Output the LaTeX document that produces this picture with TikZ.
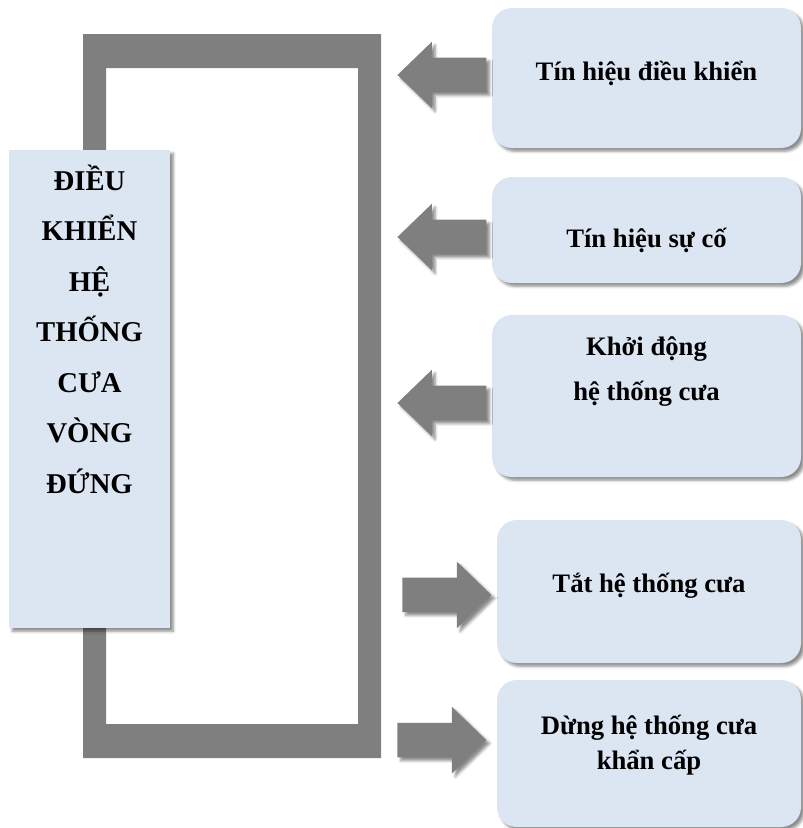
\documentclass[tikz,border=0pt]{standalone}
\usepackage{fontspec}
\setmainfont{Liberation Serif}
\usepackage{tikz}
\usetikzlibrary{positioning, shapes.arrows, shadows.blur}

\definecolor{boxblue}{HTML}{DCE6F2}
\definecolor{framegray}{HTML}{7F7F7F}

\tikzset{
  softshadow/.style = {blur shadow={shadow xshift=2.5pt, shadow yshift=-2.5pt, shadow blur radius=2pt, shadow opacity=45}},
  ctrlbox/.style    = {fill=boxblue, minimum width=120.75pt, minimum height=358.5pt, inner sep=0pt, softshadow},
  sigbox/.style     = {fill=boxblue, rounded corners=15pt, minimum width=231.75pt, inner sep=0pt, softshadow},
  txt/.style        = {font=\bfseries\fontsize{20pt}{24pt}\selectfont, align=center, inner sep=0pt},
  blockarrow/.style = {single arrow, fill=framegray, minimum height=66.75pt, text height=12.75pt, text depth=12.75pt,
                       single arrow head extend=12pt, single arrow tip angle=88, inner sep=0pt, softshadow},
}

\begin{document}
\begin{tikzpicture}[x=0.75pt, y=-0.75pt]

\useasboundingbox (0,0) rectangle (803,828);

% thick frame behind the control block
\fill [framegray, even odd rule] (83,34) rectangle (381,758) (106,68) rectangle (358,724);

\node [ctrlbox                                   ] (ctrl)  at (89.5,389)  {};
\node [txt, font=\bfseries\fontsize{21.5pt}{37.9pt}\selectfont] (ctrlt) at (89.5,329)
      {ĐIỀU\\KHIỂN\\HỆ\\THỐNG\\CƯA\\VÒNG\\ĐỨNG};

% signal boxes on the right
\node [sigbox, minimum height=105pt                      ] (sig1) at (646.5,78)    {};
\node [sigbox, minimum height=79.5pt                     ] (sig2) at (646.5,230)   {};
\node [sigbox, minimum height=121.5pt                    ] (sig3) at (646.5,396)   {};
\node [sigbox, minimum height=107.25pt, minimum width=228pt] (sig4) at (649,591.5) {};
\node [sigbox, minimum height=110.25pt, minimum width=228pt] (sig5) at (649,753.5) {};

\node [txt] (t1) at (646.5,73)  {Tín hiệu điều khiển};
\node [txt] (t2) at (646.5,240) {Tín hiệu sự cố};
\node [txt, font=\bfseries\fontsize{20pt}{33.75pt}\selectfont] (t3) at (646.5,372) {Khởi động\\hệ thống cưa};
\node [txt] (t4) at (649,586)   {Tắt hệ thống cưa};
\node [txt, font=\bfseries\fontsize{20pt}{26.25pt}\selectfont] (t5) at (649,745) {Dừng hệ thống cưa\\khẩn cấp};

% block arrows
\node [blockarrow, shape border rotate=180, left=3.75pt of sig1, yshift=2.25pt ] (a1) {};
\node [blockarrow, shape border rotate=180, left=3.75pt of sig2, yshift=-5.25pt] (a2) {};
\node [blockarrow, shape border rotate=180, left=3.75pt of sig3, yshift=-5.25pt] (a3) {};
\node [blockarrow,                          left=3.75pt of sig4, yshift=-2.6pt ] (a4) {};
\node [blockarrow,                          left=7.5pt  of sig5, yshift=10pt   ] (a5) {};

\end{tikzpicture}
\end{document}
